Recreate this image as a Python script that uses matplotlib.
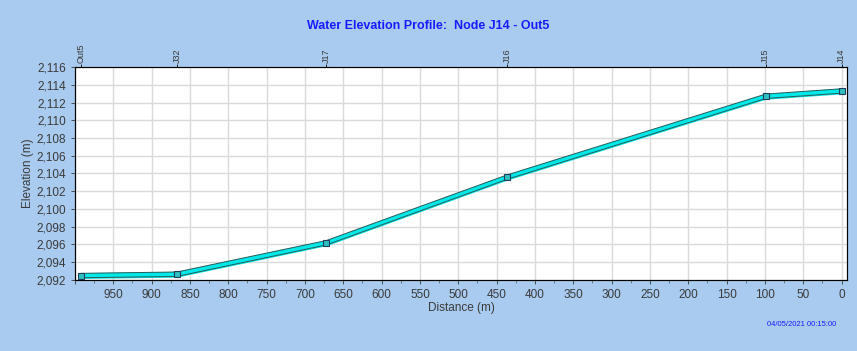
import matplotlib
matplotlib.use('Agg')
from matplotlib import pyplot as plt
from matplotlib.ticker import FuncFormatter, MultipleLocator
import numpy as np

plt.rcParams['font.family'] = ['Liberation Sans', 'DejaVu Sans']

# profile data
nodes = ['Out5', 'J32', 'J17', 'J16', 'J15', 'J14']
distance = [992, 867, 672, 436, 99, 0]
invert = [2092.25, 2092.4, 2095.95, 2103.35, 2112.45, 2113.05]
water = [2092.75, 2092.9, 2096.45, 2103.85, 2112.95, 2113.55]

bg = '#A9CBEF'
fig = plt.figure(figsize=(8.57, 3.51), dpi=100, facecolor=bg)
ax = fig.add_axes([0.0875, 0.2023, 0.9008, 0.6068])
ax.set_facecolor('white')

ax.fill_between(distance, invert, water, color='#00E8E8', zorder=3)
ax.plot(distance, invert, color='#2A5A5A', lw=0.7, zorder=4)
ax.plot(distance, water, color='#2A5A5A', lw=0.7, zorder=4)
mid = [(a + b) / 2 for a, b in zip(invert, water)]
ax.plot(distance, mid, ls='none', marker='s', ms=4, mfc='#30C0C0',
        mec='#1F3F5F', mew=0.8, zorder=5)

ax.set_xlim(1000, -7)
ax.set_ylim(2092, 2116)
ax.xaxis.set_major_locator(MultipleLocator(50))
ax.xaxis.set_minor_locator(MultipleLocator(25))
ax.yaxis.set_major_locator(MultipleLocator(2))
ax.yaxis.set_major_formatter(FuncFormatter(lambda v, p: f'{v:,.0f}'))
ax.xaxis.set_major_formatter(FuncFormatter(lambda v, p: '' if v > 960 else f'{v:.0f}'))
ax.grid(True, color='#DADADA', lw=1.0, zorder=0)
ax.tick_params(labelsize=8.5, colors='#3A3A3A', length=3, width=0.6)
ax.tick_params(which='minor', length=2, width=0.5, colors='#555555')
for s in ax.spines.values():
    s.set_color('#555555')
    s.set_linewidth(0.8)

ax.set_xlabel('Distance (m)', fontsize=8.5, color='#3A3A3A', labelpad=1)
ax.set_ylabel('Elevation (m)', fontsize=8.5, color='#3A3A3A', labelpad=2)

top = ax.twiny()
top.set_xlim(ax.get_xlim())
top.set_xticks(distance)
top.set_xticklabels(nodes, rotation=90, fontsize=6.5, color='#3A3A3A')
top.tick_params(length=2, pad=1, width=0.6)

fig.text(0.5, 0.925, 'Water Elevation Profile:  Node J14 - Out5', ha='center',
         va='center', fontsize=9, fontweight='bold', color='#1A1AFF')
fig.text(0.935, 0.075, '04/05/2021 00:15:00', ha='center', va='center',
         fontsize=5.5, color='#1A1AFF')

fig.savefig('out.png', dpi=100, facecolor=bg)
